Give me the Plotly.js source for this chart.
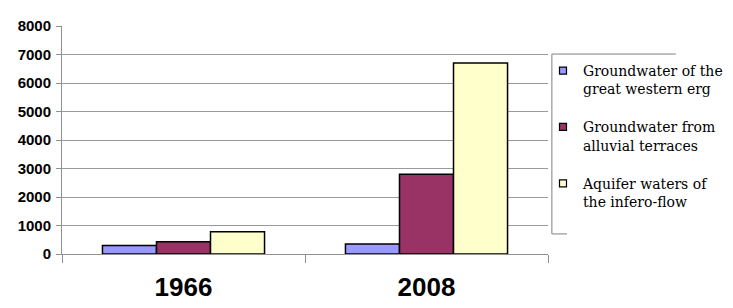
<!DOCTYPE html>
<html><head><meta charset="utf-8">
<script src="https://cdn.plot.ly/plotly-3.0.1.min.js"></script>
<style>html,body{margin:0;padding:0;background:#fff}#c{width:733px;height:308px}</style>
</head><body><div id="c"></div>
<script>
const years = ['1966', '2008'];
const seriesNames = ['Groundwater of the<br>great western erg', 'Groundwater from<br>alluvial terraces', 'Aquifer waters of<br>the infero-flow'];
const greatWesternErg = [300, 350];
const alluvialTerraces = [430, 2800];
const inferoFlow = [780, 6700];
const yTicks = [0, 1000, 2000, 3000, 4000, 5000, 6000, 7000, 8000];
const colors = ['#9999FF', '#993366', '#FFFFCC'];

const values = [greatWesternErg, alluvialTerraces, inferoFlow];
const traces = [];
values.forEach((v, i) => {
  traces.push({type: 'bar', x: years, y: v, name: seriesNames[i], showlegend: false, legendgroup: 'g' + i,
    marker: {color: colors[i], line: {color: '#000', width: 1.5}}, hoverinfo: 'x+y'});
});
values.forEach((v, i) => {
  traces.push({type: 'scatter', mode: 'markers', x: [null], y: [null], name: seriesNames[i], legendgroup: 'g' + i,
    marker: {symbol: 'square', size: 7, color: colors[i], line: {color: '#000', width: 1.2}}});
});

const layout = {
  width: 733, height: 308,
  margin: {l: 62, r: 185, t: 26, b: 54, autoexpand: false},
  paper_bgcolor: '#fff', plot_bgcolor: '#fff',
  barmode: 'group', bargap: 0.333, bargroupgap: 0,
  showlegend: true,
  legend: {x: 0.9897, y: 0.873, xanchor: 'left', yanchor: 'top', bgcolor: 'rgba(0,0,0,0)', borderwidth: 0,
    font: {family: 'DejaVu Serif', size: 14, color: '#000'},
    tracegroupgap: 17, itemwidth: 30, valign: 'top'},
  xaxis: {type: 'category', showgrid: false, showline: true, linecolor: '#909090', linewidth: 1,
    ticks: 'outside', tickson: 'boundaries', ticklen: 8, tickcolor: '#909090',
    tickfont: {family: 'Liberation Sans, Arial, sans-serif', size: 26, color: '#000', weight: 'bold'},
    ticklabelstandoff: 10},
  yaxis: {range: [0, 8000], tickvals: yTicks, ticktext: yTicks.map(String), showgrid: true, gridcolor: '#9a9a9a', gridwidth: 1,
    showline: true, linecolor: '#909090', linewidth: 1, ticks: 'outside', ticklen: 5, tickcolor: '#909090',
    zeroline: false, ticklabelstandoff: 2,
    tickfont: {family: 'Liberation Sans, Arial, sans-serif', size: 15, color: '#000', weight: 'bold'}},
  shapes: [
    {type: 'line', xref: 'paper', yref: 'paper', x0: 1.008, x1: 1.008, y0: 0.088, y1: 0.877, line: {color: '#808080', width: 1}},
    {type: 'line', xref: 'paper', yref: 'paper', x0: 1.008, x1: 1.263, y0: 0.877, y1: 0.877, line: {color: '#808080', width: 1}},
    {type: 'line', xref: 'paper', yref: 'paper', x0: 1.008, x1: 1.039, y0: 0.088, y1: 0.088, line: {color: '#808080', width: 1}}
  ]
};
Plotly.newPlot('c', traces, layout, {displayModeBar: false, staticPlot: true});
</script></body></html>
